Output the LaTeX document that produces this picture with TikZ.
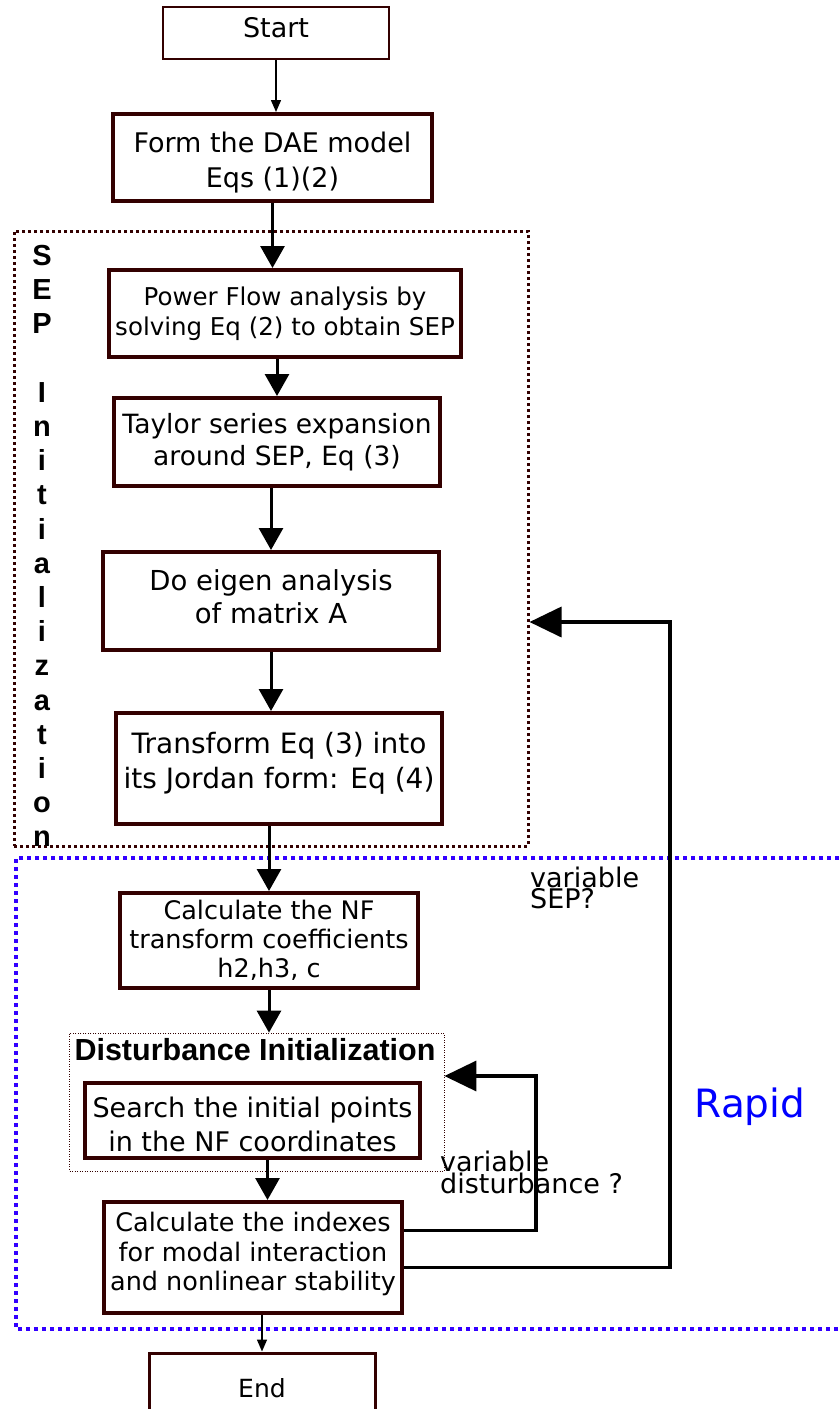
\documentclass[tikz,border=0pt]{standalone}
\usepackage{fontspec}
\setmainfont{DejaVu Sans}
\newfontfamily\arialfont{Liberation Sans}
\usepackage{tikz}
\usetikzlibrary{arrows.meta, positioning}
\definecolor{fcBrown}{RGB}{51,0,0}
\definecolor{fcBlue}{RGB}{51,0,255}
\definecolor{fcRapid}{RGB}{0,0,255}
\newcommand{\fsz}[2]{\fontsize{#1}{#2}\selectfont}
\newcommand{\up}[1]{\rule{0pt}{#1}}
\newcommand{\down}[1]{\rule[-#1]{0pt}{#1}}

\begin{document}
\begin{tikzpicture}[x=1pt, y=-1pt,
    block/.style={draw=fcBrown, line width=4pt, fill=white, align=center, inner sep=0pt},
    term/.style={block, line width=2pt},
    group/.style={draw=fcBrown, line width=3pt, dash pattern=on 3pt off 3pt, inner sep=0pt},
    subgroup/.style={draw=fcBrown, line width=0.8pt, dash pattern=on 1pt off 1.5pt, inner sep=0pt},
    flow/.style={line width=3pt, -{Triangle[length=22pt,width=24pt]}},
    thin flow/.style={line width=1.5pt, -{Triangle[length=12pt,width=10pt]}},
    back/.style={line width=3.5pt, -{Triangle[length=32pt,width=30pt]}},
    note/.style={font=\fsz{27}{18}, align=left, anchor=west, inner sep=0pt},
    heading/.style={font=\arialfont\bfseries\fsz{29}{34.2}, align=center, inner sep=0pt}
  ]
    \useasboundingbox (0,0) rectangle (839,1409);
    \node[group, minimum width=514pt, minimum height=615pt] (sepgroup) at (271,538.5) {};
    \node[heading, anchor=north] (seplabel) at (42,245) {S\\E\\P\\[34.2pt]I\\n\\i\\t\\i\\a\\l\\i\\z\\a\\t\\i\\o\\n};
    \draw[fcBlue, line width=4pt, dash pattern=on 4pt off 4pt] (839,858) -| (16,1329) -- (839,1329);
    \node[subgroup, minimum width=374.5pt, minimum height=138pt] (distgroup) at (256.75,1102) {};
    \node[heading, font=\arialfont\bfseries\fsz{30.5}{30}] (disttitle) at (255,1050) {Disturbance Initialization};

    \node[term, minimum width=226pt, minimum height=52pt, font=\fsz{27}{32}] (start) at (276,33) {Start\down{12pt}};
    \node[block, minimum width=319pt, minimum height=87pt, font=\fsz{27}{35}] (form) at (272.5,157.5) {\up{30pt}Form the DAE model\\Eqs (1)(2)};
    \node[block, minimum width=352pt, minimum height=87pt, font=\fsz{24.5}{30}] (power) at (285,313.5) {Power Flow analysis by\\solving Eq (2) to obtain SEP};
    \node[block, minimum width=326pt, minimum height=88pt, font=\fsz{26.5}{32}] (taylor) at (277,442) {Taylor series expansion\\around SEP, Eq (3)};
    \node[block, minimum width=336pt, minimum height=98pt, font=\fsz{27.5}{33}] (eigen) at (271,601) {Do eigen analysis\\of matrix A\down{8pt}};
    \node[block, minimum width=326pt, minimum height=111pt, font=\fsz{28}{35}] (jordan) at (279,768.5) {Transform Eq (3) into\\its Jordan form: Eq (4)\down{16pt}};
    \node[block, minimum width=298pt, minimum height=95pt, font=\fsz{25.5}{29}] (nfcoef) at (269,940.5) {Calculate the NF\\transform coefficients\\h2,h3, c};
    \node[block, minimum width=335pt, minimum height=75pt, font=\fsz{27}{34}] (search) at (252.5,1120.5) {\up{28.5pt}Search the initial points\\in the NF coordinates};
    \node[block, minimum width=298pt, minimum height=111pt, font=\fsz{25.5}{29.5}] (indexes) at (253,1257.5) {Calculate the indexes\\for modal interaction\\and nonlinear stability\down{12pt}};
    \node[block, line width=3pt, minimum width=226pt, minimum height=70pt, font=\fsz{25}{30}] (finish) at (262,1388) {End};

    \node[note] (sepnote) at (530,888) {variable\\SEP?};
    \node[note] (distnote) at (440,1172) {variable\\disturbance ?};
    \node[font=\fsz{39}{39}, text=fcRapid, inner sep=0pt] (rapid) at (750,1107) {Rapid};

    \draw[thin flow] (start.south) -- (start.south |- form.north);
    \draw[flow] (form.south) -- (form.south |- power.north);
    \draw[flow] (power.south -| taylor) -- (taylor.north);
    \draw[flow] (taylor.south -| eigen) -- (eigen.north);
    \draw[flow] (eigen.south) -- (eigen.south |- jordan.north);
    \draw[flow] (jordan.south -| nfcoef) -- (nfcoef.north);
    \draw[flow] (nfcoef.south) -- (nfcoef.south |- distgroup.north);
    \draw[flow] ([xshift=15pt]search.south) -- ([xshift=15pt]search.south |- indexes.north);
    \draw[thin flow] (indexes.south -| finish) -- (finish.north);

    \coordinate (distturn) at (536,1076);
    \coordinate (septurn) at (670,622);
    \draw[back] ([yshift=27pt]indexes.east) -| (distturn) -- (distturn -| distgroup.east);
    \draw[back] ([yshift=-10pt]indexes.east) -| (septurn) -- (septurn -| sepgroup.east);
  \end{tikzpicture}
\end{document}
